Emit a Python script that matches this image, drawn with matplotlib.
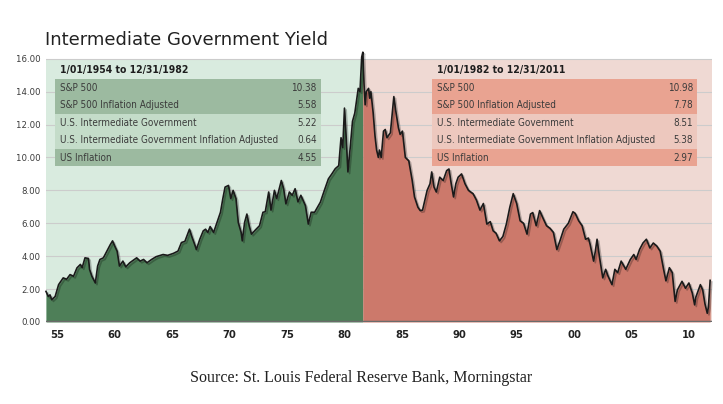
import matplotlib.pyplot as plt
import matplotlib.patheffects as pe
from matplotlib.patches import Rectangle
import numpy as np

# yield series (year, percent)
years = [
    1954.0, 1954.2, 1954.35, 1954.5, 1954.8, 1955.1, 1955.5, 1955.8, 1956.1, 1956.4,
    1956.7, 1957.0, 1957.15, 1957.4, 1957.7, 1957.8, 1958.0, 1958.3, 1958.5, 1958.7,
    1959.0, 1959.3, 1959.6, 1959.8, 1960.0, 1960.2, 1960.4, 1960.7, 1960.95, 1961.3,
    1961.9, 1962.2, 1962.5, 1962.8, 1963.2, 1963.6, 1964.2, 1964.6, 1965.1, 1965.5,
    1965.8, 1966.1, 1966.5, 1966.7, 1967.0, 1967.1, 1967.4, 1967.7, 1967.9, 1968.1,
    1968.3, 1968.6, 1968.9, 1969.2, 1969.4, 1969.6, 1969.9, 1970.1, 1970.3, 1970.55,
    1970.75, 1971.0, 1971.1, 1971.3, 1971.5, 1971.7, 1971.9, 1972.25, 1972.6, 1972.9,
    1973.1, 1973.4, 1973.6, 1973.9, 1974.1, 1974.5, 1974.7, 1974.9, 1975.2, 1975.45,
    1975.7, 1975.95, 1976.2, 1976.6, 1976.85, 1977.1, 1977.4, 1977.9, 1978.2, 1978.6,
    1978.9, 1979.2, 1979.5, 1979.7, 1979.85, 1980.0, 1980.15, 1980.3, 1980.5, 1980.7,
    1980.9, 1981.2, 1981.35, 1981.5, 1981.6, 1981.7, 1981.8, 1981.9, 1982.1, 1982.2,
    1982.3, 1982.5, 1982.66, 1982.8, 1982.95, 1983.05, 1983.2, 1983.4, 1983.55, 1983.7,
    1984.0, 1984.3, 1984.45, 1984.7, 1984.85, 1985.05, 1985.3, 1985.6, 1985.9, 1986.1,
    1986.4, 1986.6, 1986.8, 1987.2, 1987.45, 1987.6, 1987.8, 1988.0, 1988.3, 1988.6,
    1988.9, 1989.1, 1989.3, 1989.5, 1989.7, 1989.9, 1990.2, 1990.5, 1990.8, 1991.2,
    1991.5, 1991.8, 1992.1, 1992.4, 1992.7, 1992.95, 1993.2, 1993.5, 1993.8, 1994.1,
    1994.4, 1994.7, 1995.0, 1995.3, 1995.6, 1995.9, 1996.2, 1996.4, 1996.7, 1997.0,
    1997.3, 1997.6, 1997.9, 1998.2, 1998.5, 1998.8, 1999.1, 1999.5, 1999.9, 2000.1,
    2000.4, 2000.7, 2001.0, 2001.25, 2001.4, 2001.7, 2001.85, 2002.0, 2002.2, 2002.5,
    2002.75, 2002.95, 2003.3, 2003.55, 2003.8, 2004.1, 2004.5, 2004.9, 2005.2, 2005.4,
    2005.7, 2006.0, 2006.3, 2006.6, 2006.9, 2007.2, 2007.5, 2007.8, 2008.0, 2008.3,
    2008.55, 2008.8, 2009.0, 2009.4, 2009.7, 2010.0, 2010.3, 2010.5, 2010.6, 2011.0,
    2011.2, 2011.4, 2011.6, 2011.7, 2011.85,
]
yields = [
    1.86, 1.55, 1.65, 1.35, 1.55, 2.27, 2.68, 2.6, 2.88, 2.78,
    3.29, 3.5, 3.3, 3.9, 3.86, 3.19, 2.78, 2.37, 3.4, 3.8,
    3.9, 4.3, 4.7, 4.93, 4.6, 4.3, 3.4, 3.7, 3.35, 3.6,
    3.9, 3.7, 3.8, 3.6, 3.8, 3.97, 4.1, 4.05, 4.17, 4.31,
    4.83, 4.9, 5.64, 5.2, 4.62, 4.4, 5.03, 5.54, 5.64, 5.44,
    5.8, 5.44, 6.05, 6.67, 7.48, 8.2, 8.3, 7.5, 8.0, 7.5,
    6.05, 5.44, 4.93, 6.05, 6.56, 5.85, 5.34, 5.6, 5.85, 6.67,
    6.7, 7.9, 6.8, 8.0, 7.5, 8.6, 8.1, 7.18, 7.9, 7.7,
    8.1, 7.3, 7.7, 7.07, 5.95, 6.67, 6.67, 7.28, 7.9, 8.7,
    9.0, 9.32, 9.5, 11.2, 10.6, 13.0, 11.2, 9.12, 10.6, 12.2,
    12.7, 14.2, 14.0, 16.1, 16.4, 14.5, 13.2, 14.0, 14.2, 13.6,
    14.0, 12.7, 11.3, 10.45, 10.0, 10.45, 10.0, 11.6, 11.7, 11.2,
    11.5, 13.7, 12.9, 11.8, 11.4, 11.6, 10.0, 9.8, 8.6, 7.6,
    6.97, 6.77, 6.8, 8.0, 8.4, 9.12, 8.2, 7.9, 8.8, 8.6,
    9.2, 9.3, 8.4, 7.6, 8.4, 8.8, 9.0, 8.4, 8.0, 7.8,
    7.4, 6.8, 7.2, 5.95, 6.1, 5.54, 5.4, 4.93, 5.2, 5.95,
    6.97, 7.8, 7.2, 6.15, 6.0, 5.34, 6.56, 6.65, 5.85, 6.77,
    6.3, 5.85, 5.7, 5.44, 4.4, 5.0, 5.64, 6.0, 6.7, 6.6,
    6.15, 5.85, 5.03, 5.1, 4.7, 3.7, 4.3, 5.03, 4.0, 2.68,
    3.2, 2.8, 2.27, 3.2, 3.0, 3.7, 3.2, 3.8, 4.1, 3.8,
    4.4, 4.8, 5.03, 4.5, 4.8, 4.62, 4.3, 3.19, 2.5, 3.3,
    3.0, 1.25, 1.95, 2.47, 2.05, 2.37, 1.75, 1.04, 1.5, 2.27,
    1.95, 1.1, 0.53, 0.9, 2.53,
]
split_year = 1981.6

y_ticks = [0, 2, 4, 6, 8, 10, 12, 14, 16]
x_ticks = [1955, 1960, 1965, 1970, 1975, 1980, 1985, 1990, 1995, 2000, 2005, 2010]
x_labels = ["55", "60", "65", "70", "75", "80", "85", "90", "95", "00", "05", "10"]

table_rows = ["S&P 500", "S&P 500 Inflation Adjusted", "U.S. Intermediate Government",
              "U.S. Intermediate Government Inflation Adjusted", "US Inflation"]
left_title = "1/01/1954 to 12/31/1982"
left_values = ["10.38", "5.58", "5.22", "0.64", "4.55"]
right_title = "1/01/1982 to 12/31/2011"
right_values = ["10.98", "7.78", "8.51", "5.38", "2.97"]

narrow = dict(family="DejaVu Sans", fontstretch="condensed")

x = np.array(years)
y = np.array(yields)

fig = plt.figure(figsize=(7.23, 4.04), dpi=100)
ax = fig.add_axes([0.0636, 0.203, 0.921, 0.676])
ax.set_xlim(1954, 2012)
ax.set_ylim(0, 16.6)

# shaded backgrounds
ax.fill_between([1954, split_year], 0, 16, color="#d9ebdf", lw=0, zorder=0)
ax.fill_between([split_year, 2012], 0, 16, color="#efd9d3", lw=0, zorder=0)
for t in y_ticks[1:]:
    ax.axhline(t, color="#cccccc", lw=0.8, zorder=1)

left = x <= split_year
right = x >= split_year
ax.fill_between(x[left], 0, y[left], color="#4e7f58", lw=0, zorder=2)
ax.fill_between(x[right], 0, y[right], color="#cc796b", lw=0, zorder=2)
ax.plot(x, y, color="#1a1a1a", lw=1.2, zorder=4, clip_on=False,
        path_effects=[pe.SimpleLineShadow(offset=(1.2, -1.2), shadow_color="k", alpha=0.25),
                      pe.Normal()])
ax.axhline(0, color="#6b6b6b", lw=2.5, zorder=5)


def draw_table(x0, x1, title, values, dark, light):
    top = 14.78
    row_h = 1.065
    ax.text(x0 + 0.4, 15.33, title, fontsize=7.5, fontweight="bold", **narrow,
            color="#1e1e1e", va="center", ha="left", zorder=6)
    for i, (name, val) in enumerate(zip(table_rows, values)):
        face = light if i in (2, 3) else dark
        ax.add_patch(Rectangle((x0, top - (i + 1) * row_h), x1 - x0, row_h,
                               facecolor=face, edgecolor="none", zorder=3))
        yc = top - (i + 0.5) * row_h
        ax.text(x0 + 0.4, yc, name, fontsize=7.1, **narrow, color="#3b3b3b",
                va="center", ha="left", zorder=6)
        ax.text(x1 - 0.35, yc, val, fontsize=7.1, **narrow, color="#3b3b3b",
                va="center", ha="right", zorder=6)


draw_table(1954.78, 1977.95, left_title, left_values, "#9cbaa0", "#c4dcc9")
draw_table(1987.62, 2010.71, right_title, right_values, "#e9a391", "#edc8be")

ax.set_yticks(y_ticks)
ax.set_yticklabels([f"{t:.2f}" for t in y_ticks], fontsize=6.8, **narrow, color="#3b3b3b")
ax.set_xticks(x_ticks)
ax.set_xticklabels(x_labels, fontsize=8, fontweight="bold", **narrow, color="#222222")
ax.tick_params(length=0, pad=6)
ax.tick_params(axis="y", pad=4)
for s in ax.spines.values():
    s.set_visible(False)

fig.text(0.062, 0.9, "Intermediate Government Yield", fontsize=13, color="#222222",
         ha="left", va="center")
fig.text(0.5, 0.065, "Source: St. Louis Federal Reserve Bank, Morningstar", fontsize=11.5,
         family=["Liberation Serif", "DejaVu Serif"], color="#222222", ha="center", va="center")

fig.savefig("out.png", dpi=100)
